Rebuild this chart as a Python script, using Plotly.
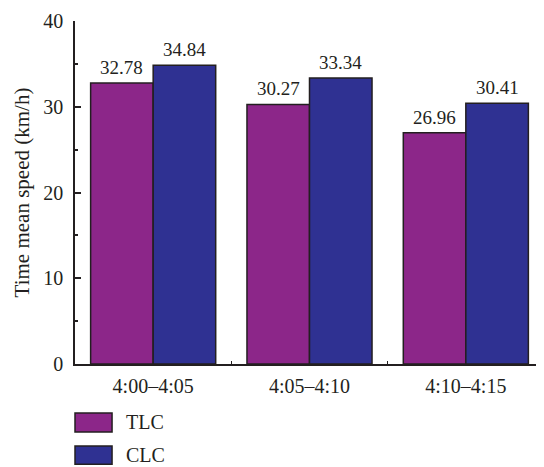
import plotly.graph_objects as go

categories = ["4:00\u20134:05", "4:05\u20134:10", "4:10\u20134:15"]
tlc = [32.78, 30.27, 26.96]
clc = [34.84, 33.34, 30.41]
series_names = ["TLC", "CLC"]
y_ticks = [0, 10, 20, 30, 40]

colors = {"TLC": "#8C2689", "CLC": "#2F3192"}
ink = "#231F20"
font = "Liberation Serif, Times New Roman, serif"
bargap = 0.2

fig = go.Figure()
for name, vals in zip(series_names, [tlc, clc]):
    fig.add_trace(go.Bar(
        x=categories, y=vals, name=name,
        marker=dict(color=colors[name], line=dict(color=ink, width=1.5)),
        showlegend=False,
    ))

# value labels above bars, offset to each bar's slot in the group
slot = (1 - bargap) / len(series_names)
for k, vals in enumerate([tlc, clc]):
    off = -(1 - bargap) / 2 + slot * (k + 0.5)
    for i, v in enumerate(vals):
        fig.add_annotation(x=i + off, y=v, xref="x", yref="y",
                           text=f"{v:.2f}", showarrow=False,
                           xanchor="center", yanchor="bottom", yshift=3,
                           font=dict(family=font, size=19, color=ink))

fig.update_layout(
    width=536, height=459,
    margin=dict(l=67, r=0, t=13, b=103),
    paper_bgcolor="white", plot_bgcolor="white",
    barmode="group", bargap=bargap, bargroupgap=0,
    font=dict(family=font, size=20, color=ink),
    showlegend=False,
    xaxis=dict(
        showline=True, linecolor=ink, linewidth=1.5,
        ticks="inside", ticklen=3, tickcolor=ink, tickwidth=1,
        tickson="boundaries", showgrid=False,
        tickfont=dict(family=font, size=20, color=ink),
        range=[-0.5, 2.5], ticklabelstandoff=3,
    ),
    yaxis=dict(
        range=[0, 40], tickvals=y_ticks,
        showline=True, linecolor=ink, linewidth=1.5,
        ticks="inside", ticklen=6, tickcolor=ink, tickwidth=1.5,
        minor=dict(dtick=5, ticks="inside", ticklen=3, tickcolor=ink, tickwidth=1.5),
        showgrid=False, zeroline=False,
        tickfont=dict(family=font, size=20, color=ink),
        title=dict(text="Time mean speed (km/h)", font=dict(family=font, size=21, color=ink), standoff=8),
        ticklabelstandoff=6,
    ),
)

# Custom legend
legend_rows = [(-0.143, -0.198), (-0.239, -0.292)]
for name, (y0, y1) in zip(series_names, legend_rows):
    fig.add_shape(type="rect", xref="paper", yref="paper",
                  x0=0.0, x1=0.079, y0=y1, y1=y0,
                  fillcolor=colors[name], line=dict(color=ink, width=1.5))
    fig.add_annotation(xref="paper", yref="paper", x=0.105, y=(y0 + y1) / 2,
                       text=name, showarrow=False, xanchor="left", yanchor="middle",
                       font=dict(family=font, size=20, color=ink))

fig.write_html("out.html")
